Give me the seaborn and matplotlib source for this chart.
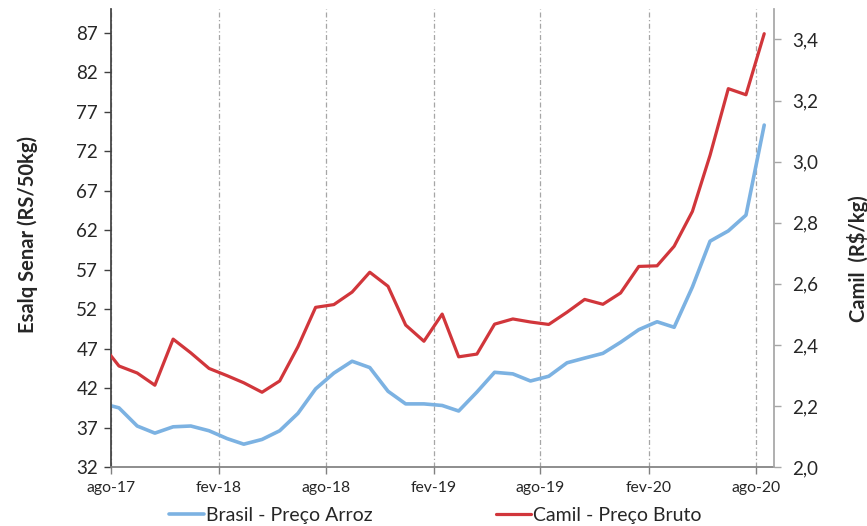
import matplotlib
matplotlib.use("Agg")
import matplotlib.pyplot as plt
from matplotlib.ticker import FuncFormatter
import seaborn as sns
import pandas as pd

# monthly values, first point (jul-17) sits left of the axis start and gets clipped
meses = pd.date_range("2017-07-01", "2020-08-01", freq="MS") + pd.Timedelta(days=14)

brasil = [40.1, 39.5, 37.2, 36.3, 37.1, 37.2,
          36.6, 35.6, 34.9, 35.5, 36.6, 38.8, 41.9, 43.9, 45.4, 44.6, 41.6, 40.0,
          40.0, 39.8, 39.1, 41.5, 44.0, 43.8, 42.9, 43.5, 45.2, 45.8, 46.4, 47.8,
          49.4, 50.4, 49.7, 54.8, 60.6, 61.9, 63.9, 75.3]

camil = [2.407, 2.331, 2.308, 2.268, 2.419, 2.374,
         2.323, 2.299, 2.276, 2.245, 2.282, 2.394, 2.523, 2.532, 2.573, 2.638, 2.592, 2.465,
         2.412, 2.501, 2.361, 2.370, 2.468, 2.485, 2.475, 2.467, 2.507, 2.549, 2.533, 2.570,
         2.657, 2.659, 2.723, 2.837, 3.021, 3.239, 3.219, 3.419]

tick_datas = ["2017-08-01", "2018-02-01", "2018-08-01", "2019-02-01",
              "2019-08-01", "2020-02-01", "2020-08-01"]
tick_labels = ["ago-17", "fev-18", "ago-18", "fev-19", "ago-19", "fev-20", "ago-20"]

left_ticks = [32, 37, 42, 47, 52, 57, 62, 67, 72, 77, 82, 87]
right_ticks = [2.0, 2.2, 2.4, 2.6, 2.8, 3.0, 3.2, 3.4]

df = pd.DataFrame({"data": meses, "brasil": brasil, "camil": camil})

azul = "#7cb2e2"
vermelho = "#d1363b"

sns.set_theme(style="white")
plt.rcParams["font.family"] = ["Lato", "DejaVu Sans"]

fig = plt.figure(figsize=(8.67, 5.26), dpi=100)
ax = fig.add_axes([0.1277, 0.112, 0.7653, 0.871])
ax2 = ax.twinx()

sns.lineplot(data=df, x="data", y="brasil", ax=ax, color=azul, linewidth=2.6)
sns.lineplot(data=df, x="data", y="camil", ax=ax2, color=vermelho, linewidth=2.3)

ax.set_xlim(pd.Timestamp("2017-08-01"), pd.Timestamp("2020-09-01"))
ax.set_ylim(32, 90)
ax2.set_ylim(2.0, 3.5)

ax.set_xticks(pd.to_datetime(tick_datas))
ax.set_xticklabels(tick_labels, fontsize=11.3)
ax.set_yticks(left_ticks)
ax.set_yticklabels([str(t) for t in left_ticks], fontsize=13.5)
ax2.set_yticks(right_ticks)
ax2.yaxis.set_major_formatter(FuncFormatter(lambda v, p: f"{v:.1f}".replace(".", ",")))
ax2.tick_params(axis="y", labelsize=13.5)

# dash-dot vertical gridlines
ax.grid(axis="x", color="#a6a6a6", linestyle=(0, (4, 2, 1, 2)), linewidth=0.9)
ax.grid(axis="y", visible=False)
ax2.grid(False)

for a in (ax, ax2):
    a.spines["top"].set_visible(False)
ax.spines["left"].set_color("#404040")
ax.spines["bottom"].set_color("#808080")
ax.spines["right"].set_visible(False)
ax2.spines["left"].set_visible(False)
ax2.spines["bottom"].set_visible(False)
ax2.spines["right"].set_color("#a6a6a6")

ax.tick_params(axis="y", direction="out", length=5, width=1, color="#404040", left=True, pad=4)
ax.tick_params(axis="x", direction="out", length=5, width=1, color="#808080", bottom=True, pad=5)
ax2.tick_params(axis="y", direction="out", length=5, width=1, color="#a6a6a6", right=True, pad=8)

ax.set_xlabel("")
ax.set_ylabel("Esalq Senar (RS/50kg)", fontsize=14.5, fontweight="bold")
ax.yaxis.set_label_coords(-0.11, 0.507)
ax2.set_ylabel("Camil  (R$/kg)", fontsize=14.5, fontweight="bold")
ax2.yaxis.set_label_coords(1.109, 0.454)

handles = [ax.get_lines()[0], ax2.get_lines()[0]]
fig.legend(handles, ["Brasil - Preço Arroz", "Camil - Preço Bruto"],
           loc="center", bbox_to_anchor=(0.502, 0.02), ncol=2, frameon=False,
           fontsize=14, handlelength=1.8, handletextpad=0.15, columnspacing=6.3)

fig.savefig("out.png", dpi=100)
